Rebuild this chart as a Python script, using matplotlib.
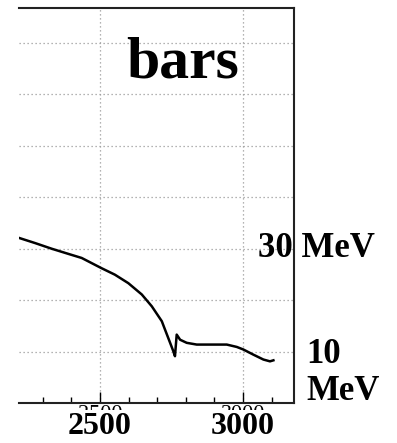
import matplotlib
matplotlib.use("Agg")
import matplotlib.pyplot as plt
import matplotlib.transforms as mtransforms

# --- data ---
energy = [2217, 2273, 2331, 2389, 2436, 2504, 2552, 2599, 2646, 2681, 2716, 2727,
          2745, 2756, 2762, 2768, 2780, 2803, 2838, 2896, 2943, 2978, 3001, 3036,
          3071, 3094, 3106]
width_mev = [32.1, 31.1, 30.0, 29.0, 28.2, 26.25, 24.95, 23.3, 21.1, 18.8, 15.9, 14.3,
             11.7, 10.1, 9.1, 13.3, 12.3, 11.7, 11.36, 11.36, 11.36, 10.9, 10.4, 9.4,
             8.45, 8.1, 8.3]
x_major = [2500, 3000]
x_minor = [2300, 2400, 2600, 2700, 2800, 2900, 3100]
x_labels = ["2500", "3000"]
y_grid = [10, 20, 30, 40, 50, 60, 70]
title = "bars"

SERIF = "Liberation Serif"

fig = plt.figure(figsize=(3.97, 4.43), dpi=100)
ax = fig.add_axes([0.0479, 0.0903, 0.6927, 0.8916])

ax.plot(energy, width_mev, color="black", lw=1.8, solid_joinstyle="round")
ax.set_xlim(2217, 3178)
ax.set_ylim(0, 76.8)

# grid
ax.set_xticks(x_major)
ax.set_xticks(x_minor, minor=True)
ax.set_yticks(y_grid)
ax.grid(True, which="major", color="#9a9a9a", linestyle=(0, (1, 2.2)), lw=0.9)
ax.tick_params(axis="y", left=False, right=False, labelleft=False)
ax.tick_params(axis="x", which="major", direction="in", length=8, width=1.0,
               color="black", pad=1.5)
ax.tick_params(axis="x", which="minor", direction="in", length=4.5, width=1.0,
               color="black")

# faint normal-weight tick labels hiding behind the bold ones
ax.set_xticklabels(x_labels, fontfamily=SERIF, fontsize=16)

ax.spines["left"].set_visible(False)
for s in ["top", "right", "bottom"]:
    ax.spines[s].set_linewidth(1.5)
    ax.spines[s].set_color("#222222")

# bold x labels on top
trans = mtransforms.blended_transform_factory(ax.transData, ax.transAxes)
for xv, lab in zip(x_major, x_labels):
    ax.text(xv, -0.022, lab, transform=trans, ha="center", va="top",
            fontfamily=SERIF, fontweight="bold", fontsize=23, clip_on=False,
            bbox=dict(facecolor="white", edgecolor="none", pad=1.0))

# right-side annotations
rtrans = mtransforms.blended_transform_factory(ax.transAxes, ax.transData)
ax.text(0.869, 30, "30 MeV", transform=rtrans, ha="left", va="center",
        fontfamily=SERIF, fontweight="bold", fontsize=25, clip_on=False)
ax.text(1.044, 12.6, "10\nMeV", transform=rtrans, ha="left", va="top",
        fontfamily=SERIF, fontweight="bold", fontsize=25,
        linespacing=1.15, clip_on=False)

ax.text(0.595, 0.823, title, transform=ax.transAxes, ha="center", va="baseline",
        fontfamily=SERIF, fontweight="bold", fontsize=43)

fig.savefig("out.png", dpi=100)
